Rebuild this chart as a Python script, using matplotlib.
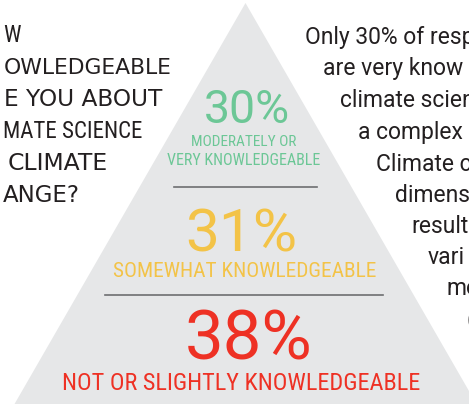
import matplotlib
matplotlib.use('Agg')
import matplotlib.pyplot as plt
from matplotlib.font_manager import FontProperties, findfont
from matplotlib.patches import Polygon

# survey shares shown in the pyramid (top to bottom)
shares = [30, 31, 38]
share_labels = [['MODERATELY OR', 'VERY KNOWLEDGEABLE'],
                ['SOMEWHAT KNOWLEDGEABLE'],
                ['NOT OR SLIGHTLY KNOWLEDGEABLE']]
share_colors = ['#6cc796', '#f3c347', '#ee3124']

# left title (cut off at the left edge) and right text (cut off at the right edge)
title_lines = ['W', 'OWLEDGEABLE', 'E YOU ABOUT', 'MATE SCIENCE', 'CLIMATE', 'ANGE?']
body_lines = ['Only 30% of resp', 'are very know', 'climate scien', 'a complex',
              'Climate c', 'dimens', 'result', 'vari', 'mo', '(']


def pick_font(names):
    for n in names:
        try:
            findfont(FontProperties(family=n), fallback_to_default=False)
            return n
        except ValueError:
            pass
    return 'DejaVu Sans'


narrow = pick_font(['Liberation Sans Narrow', 'Roboto Condensed', 'DejaVu Sans'])
num_font = pick_font(['Roboto', 'DejaVu Sans'])
ink = '#231f20'

fig = plt.figure(figsize=(4.69, 4.08), dpi=100)
ax = fig.add_axes([0, 0, 1, 1])
ax.set_xlim(0, 469)
ax.set_ylim(408, 0)
ax.axis('off')
r = fig.canvas.get_renderer()


def fit_text(x0, x1, y, s, ha='center', **kw):
    # put text on baseline y and scale it to span x0..x1 (pixels)
    x = {'center': (x0 + x1) / 2, 'left': x0, 'right': x1}[ha]
    t = ax.text(x, y, s, fontsize=20, ha=ha, va='baseline', **kw)
    w = t.get_window_extent(r).width
    t.set_fontsize(20 * (x1 - x0) / w)
    return t


# pyramid
apex_x, apex_y, base_y, slope = 245.5, 3, 404, 0.576
half = slope * (base_y - apex_y)
ax.add_patch(Polygon([(apex_x, apex_y), (apex_x - half, base_y), (apex_x + half, base_y)],
                     closed=True, fc='#e6e7e8', ec='none'))

# dividers
ax.plot([174, 317], [187, 187], color='#6d6e71', lw=1.2)
ax.plot([105, 383], [295, 295], color='#6d6e71', lw=1.2)

# big numbers: center x, baseline, cap height (px)
num_pos = [(247, 123, 33), (241, 251, 43), (248.5, 360, 49)]
for v, c, (cx, by, cap) in zip(shares, share_colors, num_pos):
    ax.text(cx, by, f'{v}%', color=c, family=num_font,
            fontsize=cap / 0.711 * 0.72, ha='center', va='baseline')

# labels under numbers: (x0, x1, baseline)
lab_pos = [[(191, 297, 146), (167, 321, 165)],
           [(113, 376, 277)],
           [(62, 420, 390)]]
for labs, c, poss in zip(share_labels, share_colors, lab_pos):
    for s, (x0, x1, by) in zip(labs, poss):
        fit_text(x0, x1, by, s, color=c, family=narrow)

# left title
title_pos = [(3, 17, 42), (4, 173, 74), (4, 163, 106), (3, 142, 138), (8, 108, 170), (3, 80, 202)]
sizes = []
for s, (x0, x1, by) in zip(title_lines[1:], title_pos[1:]):
    fam = narrow if s == 'MATE SCIENCE' else 'DejaVu Sans'
    t = fit_text(x0, x1, by, s, ha='left', color=ink, family=fam)
    sizes.append(t.get_fontsize())
ax.text(title_pos[0][0], title_pos[0][2], title_lines[0], ha='left', va='baseline',
        color=ink, family=narrow, fontsize=sizes[0] * 1.05)

# right text, lines start along the pyramid slope
body_x = [305, 323, 340, 358, 376, 395, 411, 428, 447, 466]
body_y = [44, 75, 107, 139, 171, 202, 233, 264, 295, 326]
for s, x, y in zip(body_lines, body_x, body_y):
    ax.text(x, y, s, ha='left', va='baseline', color=ink, family=num_font,
            fontsize=16.5)

fig.savefig('out.png', dpi=100)
